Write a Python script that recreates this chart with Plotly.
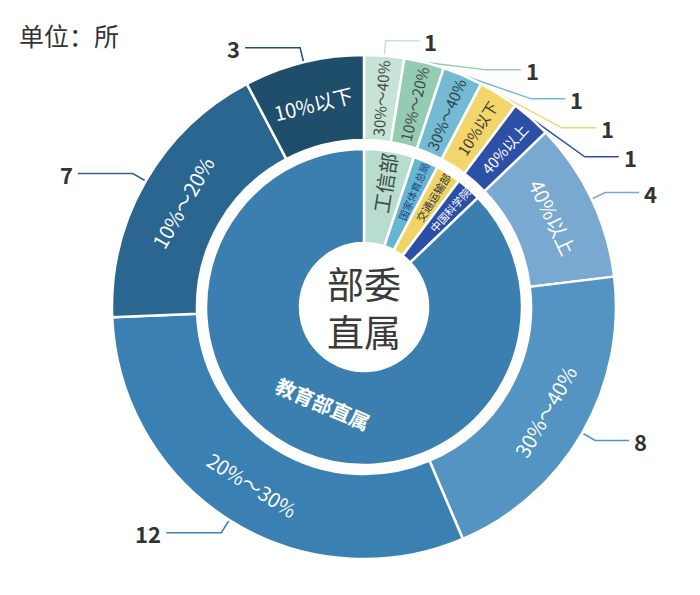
import math
import plotly.graph_objects as go

# outer ring: share-range per school, clockwise from 12 o'clock
outer_labels = ["30%～40%", "10%～20%", "30%～40%", "10%以下", "40%以上",
                "40%以上", "30%～40%", "20%～30%", "10%～20%", "10%以下"]
outer_values = [1, 1, 1, 1, 1, 4, 8, 12, 7, 3]
outer_colors = ["#c6e3d6", "#95cbb3", "#73bad2", "#f2d56b", "#2c50a5",
                "#79a9d1", "#5394c3", "#3a80b3", "#2a6690", "#1f4e6b"]
outer_textcolors = ["#3d4a48", "#3d4a48", "#2f4450", "#3a3a30", "white",
                    "white", "white", "white", "white", "white"]
outer_small = [True, True, True, True, True, False, False, False, False, False]

# inner ring: ministries
inner_labels = ["工信部", "国家体育总局", "交通运输部", "中国科学院", "教育部直属"]
inner_values = [2, 1, 1, 1, 34]
inner_colors = ["#b8dccd", "#66b5d1", "#f1d466", "#2b4fa8", "#3a7fb0"]
inner_textcolors = ["#3d4a48", "#1f3f8a", "#2d3540", "white", "white"]
inner_small = [True, True, True, True, False]

center_text = "部委<br>直属"

W, H = 700, 595
OFF = 8  # page body margin
cx, cy = 364 - OFF, 307 - OFF
R_OUT, R_OUT_HOLE = 252, 167
R_IN, R_IN_HOLE = 158, 64
FONT = "Noto Sans CJK SC"


def domain(r):
    return dict(x=[(cx - r) / W, (cx + r) / W], y=[(H - cy - r) / H, (H - cy + r) / H])


def ring(values, colors, texts, tcolors, mask, r, hole, sizes):
    # narrow slices keep their own radial text; wide ones get annotations below
    return go.Pie(
        values=values,
        text=texts,
        textinfo="text",
        textposition=["inside" if m else "none" for m in mask],
        insidetextorientation="radial",
        textfont=dict(family=FONT, color=tcolors, size=sizes),
        marker=dict(colors=colors, line=dict(color="white", width=2.5)),
        sort=False, direction="clockwise", rotation=0,
        hole=hole, domain=domain(r), showlegend=False, hoverinfo="skip",
    )


def mid_angles(values):
    total = sum(values)
    out, acc = [], 0
    for v in values:
        out.append(math.radians((acc + v / 2) / total * 360))
        acc += v
    return out


fig = go.Figure()
fig.add_trace(ring(outer_values, outer_colors, outer_labels, outer_textcolors, outer_small,
                   R_OUT, R_OUT_HOLE / R_OUT, 15))
fig.add_trace(ring(inner_values, inner_colors, inner_labels, inner_textcolors, inner_small,
                   R_IN, R_IN_HOLE / R_IN, [22, 12, 14, 13, 16]))

annotations = []


def tangential_label(text, t, r, color, size):
    deg = math.degrees(t)
    ang = deg if deg <= 90 else (deg - 180 if deg < 270 else deg - 360)
    annotations.append(dict(x=cx + r * math.sin(t), y=cy - r * math.cos(t), xref="x", yref="y",
                            text=text, textangle=ang, showarrow=False,
                            font=dict(family=FONT, size=size, color=color)))


# big slices: text follows the ring
outer_mid = mid_angles(outer_values)
for lab, t, c, s in zip(outer_labels, outer_mid, outer_textcolors, outer_small):
    if not s:
        tangential_label(lab, t, (R_OUT + R_OUT_HOLE) / 2, c, 20)
inner_mid = mid_angles(inner_values)
for lab, t, c, s in zip(inner_labels, inner_mid, inner_textcolors, inner_small):
    if not s:
        tangential_label("<b>%s</b>" % lab, t, (R_IN + R_IN_HOLE) / 2 - 6, c, 20)

# leader lines with simple overlap avoidance
L1, GAP = 15, 29
L2 = {1: 34, -1: 55}
R1 = R_OUT + L1
items = []
for i, t in enumerate(outer_mid):
    side = 1 if math.sin(t) > 0 else -1
    items.append(dict(i=i, t=t, side=side, y=cy - R1 * math.cos(t)))

for side in (1, -1):
    group = sorted([d for d in items if d["side"] == side], key=lambda d: d["y"])
    prev = -1e9
    for d in group:
        y = max(d["y"], prev + GAP)
        prev = y
        dy = y - cy
        if abs(dy) < R1:
            xe = cx + side * math.sqrt(R1 ** 2 - dy ** 2)
        else:
            xe = cx + R1 * math.sin(d["t"])
        x0 = cx + R_OUT * math.sin(d["t"])
        y0 = cy - R_OUT * math.cos(d["t"])
        x2 = xe + side * L2[side]
        fig.add_trace(go.Scatter(x=[x0, xe, x2], y=[y0, y, y], mode="lines",
                                 line=dict(color=outer_colors[d["i"]], width=1.5),
                                 showlegend=False, hoverinfo="skip"))
        annotations.append(dict(x=x2 + side * 3, y=y, xref="x", yref="y", showarrow=False,
                                text="<b>%d</b>" % outer_values[d["i"]],
                                xanchor="left" if side > 0 else "right",
                                font=dict(family=FONT, size=22, color="#333333")))

annotations.append(dict(x=cx, y=cy, xref="x", yref="y", showarrow=False,
                        text=center_text, font=dict(family=FONT, size=37, color="#3a3a3a")))
annotations.append(dict(x=17 - OFF, y=35 - OFF, xref="x", yref="y", showarrow=False,
                        text="单位：所", xanchor="left",
                        font=dict(family=FONT, size=25, color="#333333")))

fig.update_layout(
    width=W, height=H,
    margin=dict(l=0, r=0, t=0, b=0),
    paper_bgcolor="white", plot_bgcolor="rgba(0,0,0,0)",
    xaxis=dict(range=[0, W], visible=False, fixedrange=True, domain=[0, 1]),
    yaxis=dict(range=[H, 0], visible=False, fixedrange=True, domain=[0, 1]),
    annotations=annotations,
)

fig.write_html("out.html")
